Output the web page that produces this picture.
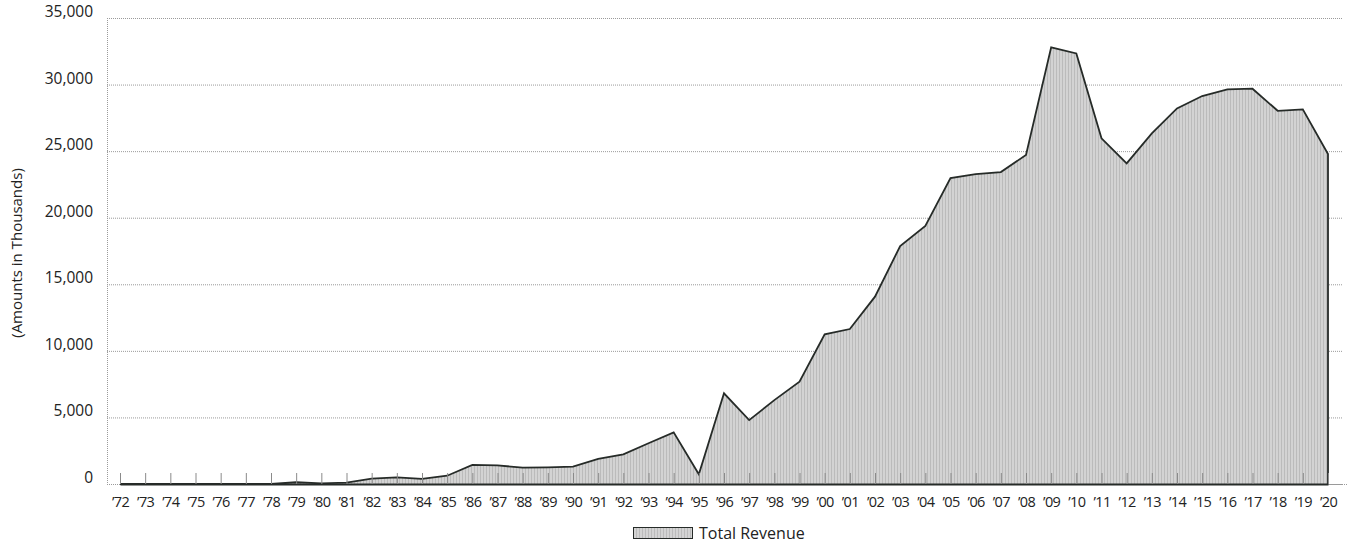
<!DOCTYPE html>
<html lang="en">
  <head>
    <meta charset="UTF-8" />
    <title>Total Revenue</title>
    <script src="https://cdn.jsdelivr.net/npm/d3@7"></script>
    <style>
      body {
        margin: 0;
        background: #ffffff;
        font-family: "Open Sans", "Noto Sans", sans-serif;
      }
    </style>
  </head>
  <body>
    <div id="chart"></div>
    <script>
      // Data (amounts in thousands)
      const years = d3.range(1972, 2021);
      const revenue = [
        0, 0, 0, 0, 0, 0, 0, 130, 50, 100,
        400, 500, 380, 620, 1430, 1400, 1230, 1250, 1300, 1880,
        2230, 3060, 3880, 730, 6810, 4800, 6300, 7680, 11240, 11640,
        14070, 17870, 19380, 22980, 23280, 23430, 24710, 32800, 32340, 25960,
        24080, 26340, 28210, 29140, 29640, 29690, 28030, 28140, 24780,
      ];
      const yTicks = [0, 5000, 10000, 15000, 20000, 25000, 30000, 35000];
      const yTitle = "(Amounts in Thousands)";
      const legendLabel = "Total Revenue";

      const data = years.map((yr, i) => ({ year: yr, value: revenue[i] }));

      const W = 1348,
        H = 544;
      const plot = { left: 107, right: 1343, top: 18, bottom: 484 };

      const svg = d3
        .select("#chart")
        .append("svg")
        .attr("width", W)
        .attr("height", H);

      // hatch-like fill for the area
      const defs = svg.append("defs");
      const pat = defs
        .append("pattern")
        .attr("id", "hatch")
        .attr("patternUnits", "userSpaceOnUse")
        .attr("width", 3)
        .attr("height", 3);
      pat.append("rect").attr("width", 3).attr("height", 3).attr("fill", "#d3d3d3");
      pat.append("rect").attr("width", 1).attr("height", 3).attr("fill", "#bbbbbb");

      const x = d3
        .scaleLinear()
        .domain([1972, 2020])
        .range([120, 1328]);

      const y = d3
        .scaleLinear()
        .domain([0, 35000])
        .range([plot.bottom, plot.top]);

      // gridlines
      svg
        .append("g")
        .selectAll("line")
        .data(yTicks)
        .join("line")
        .attr("x1", plot.left)
        .attr("x2", plot.right)
        .attr("y1", (d) => y(d) + 0.5)
        .attr("y2", (d) => y(d) + 0.5)
        .attr("stroke", "#9a9a9a")
        .attr("stroke-width", 1)
        .attr("stroke-dasharray", "1,1");

      // left frame line
      svg
        .append("line")
        .attr("x1", plot.left + 0.5)
        .attr("x2", plot.left + 0.5)
        .attr("y1", y(35000))
        .attr("y2", y(0))
        .attr("stroke", "#9a9a9a")
        .attr("stroke-dasharray", "1,1");

      // zero line extension to the right
      svg
        .append("line")
        .attr("x1", x(2020))
        .attr("x2", 1356)
        .attr("y1", y(0) + 0.5)
        .attr("y2", y(0) + 0.5)
        .attr("stroke", "#9a9a9a")
        .attr("stroke-dasharray", "1,1");

      // area
      const area = d3
        .area()
        .x((d) => x(d.year))
        .y0(y(0))
        .y1((d) => y(d.value));

      svg
        .append("path")
        .datum(data)
        .attr("fill", "url(#hatch)")
        .attr("d", area);

      // outline: top line plus the closing vertical edge at the last year
      const last = data[data.length - 1];
      const line = d3
        .line()
        .x((d) => x(d.year))
        .y((d) => y(d.value));
      svg
        .append("path")
        .datum(data.concat([{ year: last.year, value: 0 }]))
        .attr("fill", "none")
        .attr("stroke", "#262b28")
        .attr("stroke-width", 1.8)
        .attr("stroke-linejoin", "miter")
        .attr("d", line);

      // x axis (ticks point upward)
      const xAxis = svg
        .append("g")
        .attr("transform", `translate(0,${y(0)})`)
        .call(
          d3
            .axisBottom(x)
            .tickValues(years)
            .tickSizeInner(-11)
            .tickSizeOuter(0)
            .tickPadding(13)
            .tickFormat((d) => "\u2019" + String(d).slice(2))
        );
      xAxis.select(".domain").attr("stroke", "#262b28").attr("stroke-width", 1.8);
      xAxis.selectAll(".tick line").attr("stroke", "#8a8a8a");
      xAxis
        .selectAll(".tick text")
        .attr("fill", "#222")
        .style("font-size", "14.5px")
        .style("letter-spacing", "-0.6px")
        .style("font-family", '"Open Sans", "Noto Sans", sans-serif');

      // y axis labels
      const yAxis = svg
        .append("g")
        .attr("transform", `translate(${plot.left},0)`)
        .call(
          d3
            .axisLeft(y)
            .tickValues(yTicks)
            .tickSize(0)
            .tickPadding(14)
            .tickFormat(d3.format(","))
        );
      yAxis.select(".domain").remove();
      yAxis
        .selectAll(".tick text")
        .attr("fill", "#222")
        .attr("dy", "-0.1em")
        .style("font-size", "15.5px")
        .style("font-family", '"Open Sans", "Noto Sans", sans-serif');

      // y title
      svg
        .append("text")
        .attr("transform", `translate(22,${(y(0) + y(35000)) / 2 + 2}) rotate(-90)`)
        .attr("text-anchor", "middle")
        .attr("fill", "#222")
        .style("font-size", "15px")
        .text(yTitle);

      // legend
      const lg = svg.append("g").attr("transform", "translate(633,527)");
      lg.append("rect")
        .attr("x", 0.5)
        .attr("y", 0.5)
        .attr("width", 59)
        .attr("height", 11)
        .attr("fill", "url(#hatch)")
        .attr("stroke", "#262b28")
        .attr("stroke-width", 1);
      lg.append("text")
        .attr("x", 66)
        .attr("y", 12)
        .attr("fill", "#222")
        .style("font-size", "16px")
        .text(legendLabel);
    </script>
  </body>
</html>
